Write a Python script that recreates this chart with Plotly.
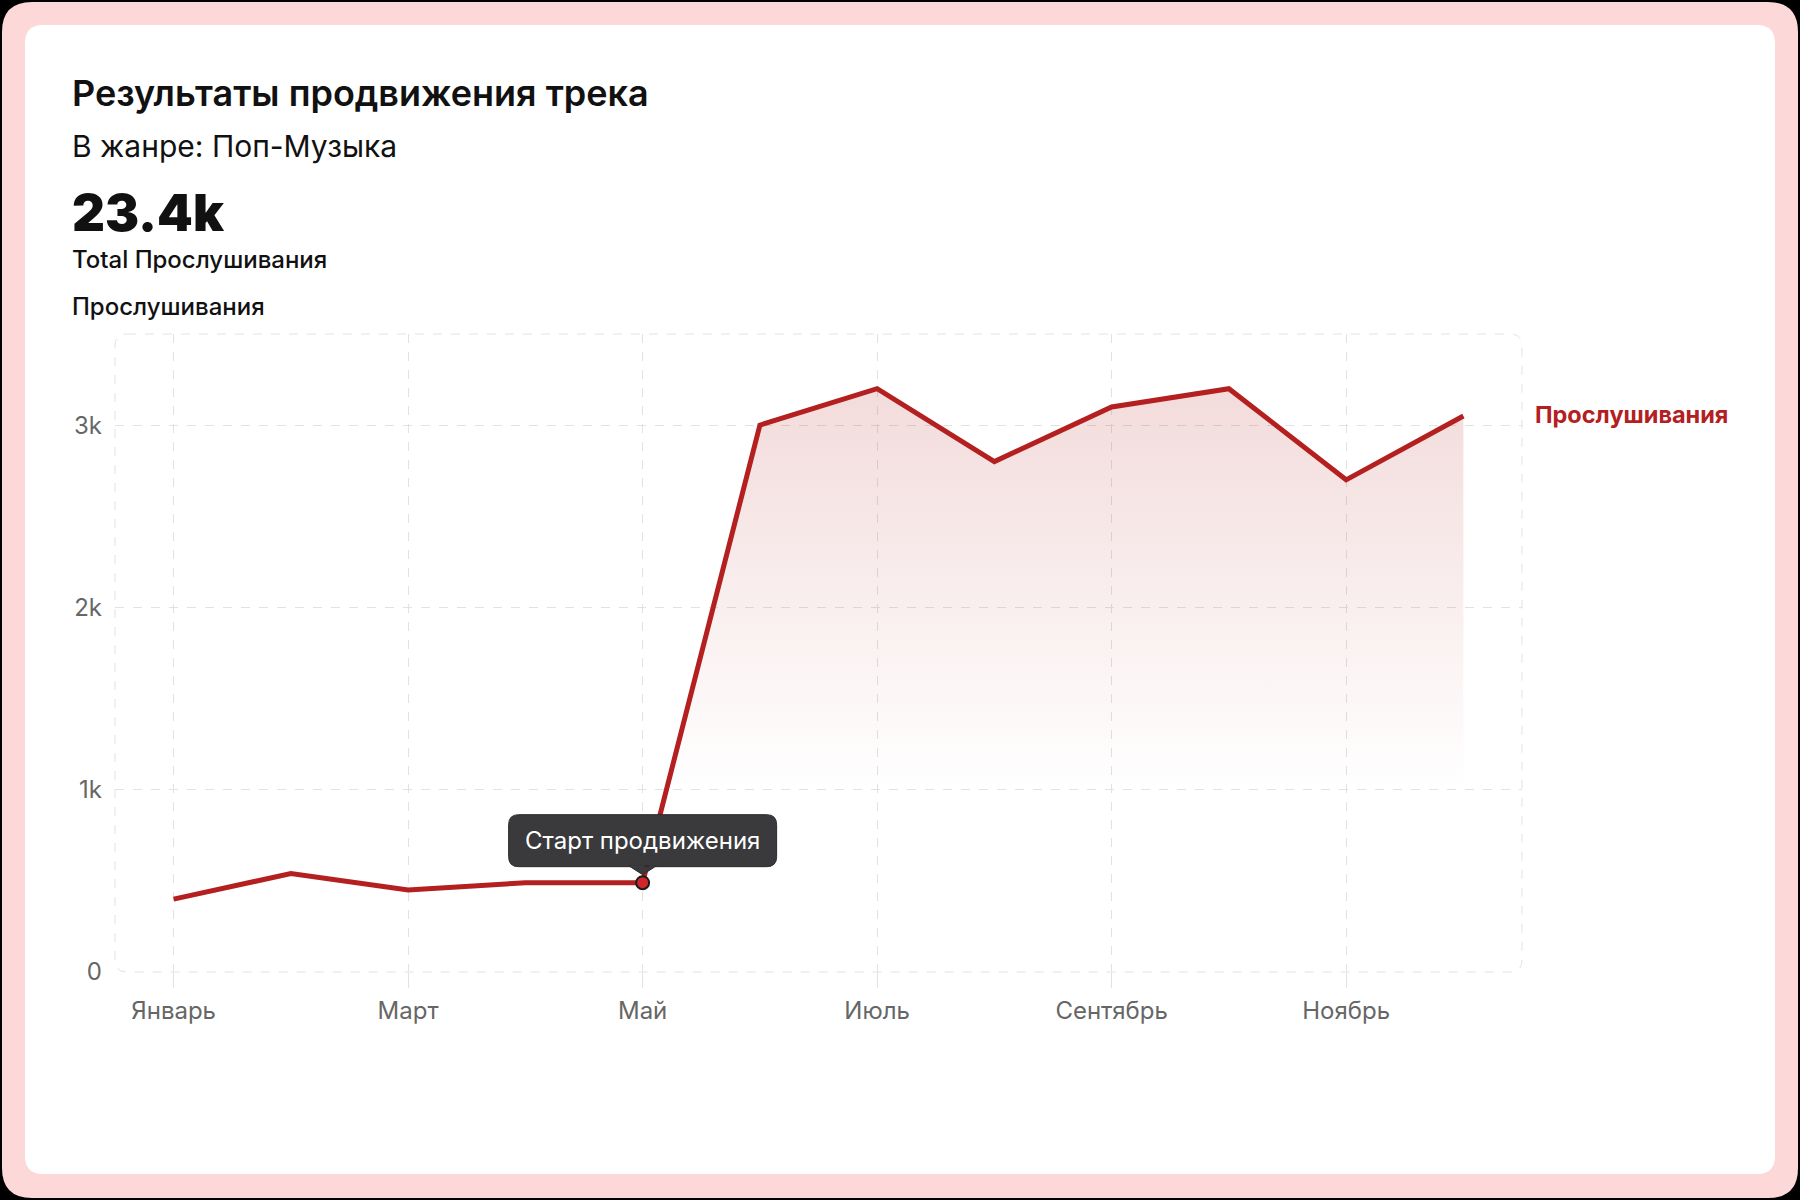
import plotly.graph_objects as go

# ---------------- data ----------------
months = ["Январь", "Февраль", "Март", "Апрель", "Май", "Июнь",
          "Июль", "Август", "Сентябрь", "Октябрь", "Ноябрь", "Декабрь"]
listens = [400, 540, 450, 490, 490, 3000, 3200, 2800, 3100, 3200, 2700, 3050]
tick_months = ["Январь", "Март", "Май", "Июль", "Сентябрь", "Ноябрь"]
y_tick_vals = [0, 1000, 2000, 3000]
y_tick_text = ["0", "1k", "2k", "3k"]
series_name = "Прослушивания"
promo_month = "Май"
promo_label = "Старт продвижения"
title_text = "Результаты продвижения трека"
subtitle_text = "В жанре: Поп-Музыка"
total_label = "Total Прослушивания"
axis_label = "Прослушивания"
total_text = f"{sum(listens) / 1000:.1f}k"

# ---------------- style ----------------
RED = "#B3201F"
FONT = "Inter"
W, H = 1800, 1200
L, R, T, B = 115, 278, 334, 228
PW, PH = W - L - R, H - T - B


def to_paper(x, y):
    return (x - L) / PW, (H - B - y) / PH


def rrect_path(x0, y0, x1, y1, r):
    pts = [("M", [(x0 + r, y0)]), ("L", [(x1 - r, y0)]), ("Q", [(x1, y0), (x1, y0 + r)]),
           ("L", [(x1, y1 - r)]), ("Q", [(x1, y1), (x1 - r, y1)]), ("L", [(x0 + r, y1)]),
           ("Q", [(x0, y1), (x0, y1 - r)]), ("L", [(x0, y0 + r)]), ("Q", [(x0, y0), (x0 + r, y0)])]
    out = []
    for cmd, ps in pts:
        coords = " ".join(f"{to_paper(px, py)[0]:.5f},{to_paper(px, py)[1]:.5f}" for px, py in ps)
        out.append(f"{cmd}{coords}")
    return " ".join(out) + " Z"


def rrect_pixel(x0, y0, x1, y1, r):
    # pixel offsets, y up
    return (f"M{x0 + r},{y1} L{x1 - r},{y1} Q{x1},{y1} {x1},{y1 - r} L{x1},{y0 + r} "
            f"Q{x1},{y0} {x1 - r},{y0} L{x0 + r},{y0} Q{x0},{y0} {x0},{y0 + r} "
            f"L{x0},{y1 - r} Q{x0},{y1} {x0 + r},{y1} Z")


promo_idx = months.index(promo_month)
promo_val = listens[promo_idx]

fig = go.Figure()

fig.add_trace(go.Scatter(
    x=months, y=listens, mode="lines", name=series_name,
    line=dict(color=RED, width=5),
    fill="tozeroy",
    fillgradient=dict(type="vertical",
                      colorscale=[[0, "rgba(179,32,31,0)"], [1, "rgba(179,32,31,0.16)"]],
                      start=1000, stop=3200),
    hoverinfo="skip",
))
fig.add_trace(go.Scatter(
    x=[promo_month], y=[promo_val], mode="markers",
    marker=dict(size=13, color="#D0262A", line=dict(color="#1c1c1c", width=2)),
    hoverinfo="skip",
))

shapes = [
    # outer pink rounded frame
    dict(type="path", xref="paper", yref="paper", layer="below",
         path=rrect_path(2, 2, W - 2, H - 2, 30), fillcolor="#FCD8D8", line=dict(width=0)),
    # white card
    dict(type="path", xref="paper", yref="paper", layer="below",
         path=rrect_path(25, 25, W - 25, H - 26, 18), fillcolor="#FFFFFF", line=dict(width=0)),
    # dashed plot frame
    dict(type="path", xref="paper", yref="paper", layer="below",
         path=rrect_path(L, T, W - R, H - B, 12), fillcolor="rgba(0,0,0,0)",
         line=dict(color="#E2E2E2", width=1, dash="dash")),
    # tooltip bubble
    dict(type="path", xref="x", yref="y", layer="above",
         xsizemode="pixel", ysizemode="pixel", xanchor=promo_month, yanchor=promo_val,
         path=rrect_pixel(-134, 16, 134, 68, 10) + " M-14,17 L14,17 L0,8 Z",
         fillcolor="#3A3A3C", line=dict(color="#2A2A2C", width=1)),
]

annotations = []
for txt, y, size, weight in [(title_text, 93, 36, 600), (subtitle_text, 146, 30, 400),
                             (total_text, 212, 51, 900), (total_label, 259, 24, 500),
                             (axis_label, 306, 24, 500)]:
    px, py = to_paper(70, y)
    annotations.append(dict(x=px, y=py, xref="paper", yref="paper", text=txt, showarrow=False,
                            xanchor="left", yanchor="middle",
                            font=dict(family=FONT, size=size, color="#111111", weight=weight)))

annotations.append(dict(x=promo_month, y=promo_val, xref="x", yref="y", text=promo_label,
                        showarrow=False, yshift=42, xanchor="center", yanchor="middle",
                        font=dict(family=FONT, size=24, color="#FFFFFF")))
annotations.append(dict(x=months[-1], y=listens[-1], xref="x", yref="y", text=series_name,
                        showarrow=False, xshift=70, yshift=2, xanchor="left", yanchor="middle",
                        font=dict(family=FONT, size=23.5, color=RED, weight=700)))

fig.update_layout(
    width=W, height=H,
    margin=dict(l=L, r=R, t=T, b=B, autoexpand=False),
    paper_bgcolor="#000000", plot_bgcolor="rgba(0,0,0,0)",
    showlegend=False,
    shapes=shapes, annotations=annotations,
    font=dict(family=FONT),
)
fig.update_xaxes(
    type="category", categoryorder="array", categoryarray=months,
    range=[-0.5, len(months) - 0.5],
    tickmode="array", tickvals=tick_months, ticktext=tick_months,
    showgrid=True, gridcolor="#E2E2E2", griddash="dash", gridwidth=1,
    ticks="outside", ticklen=15, tickcolor="#E2E2E2", tickwidth=1,
    showline=False, zeroline=False, automargin=False,
    tickfont=dict(family=FONT, size=24, color="#666666"),
    ticklabelstandoff=2,
)
fig.update_yaxes(
    range=[0, 3500],
    tickmode="array", tickvals=y_tick_vals, ticktext=y_tick_text,
    showgrid=True, gridcolor="#E2E2E2", griddash="dash", gridwidth=1,
    ticks="", showline=False, zeroline=False, automargin=False,
    tickfont=dict(family=FONT, size=24, color="#666666"),
    ticklabelstandoff=12,
)

fig.write_html(
    "out.html",
    config={"displayModeBar": False},
    post_script="document.body.style.margin='0';document.body.style.background='#000';",
)
